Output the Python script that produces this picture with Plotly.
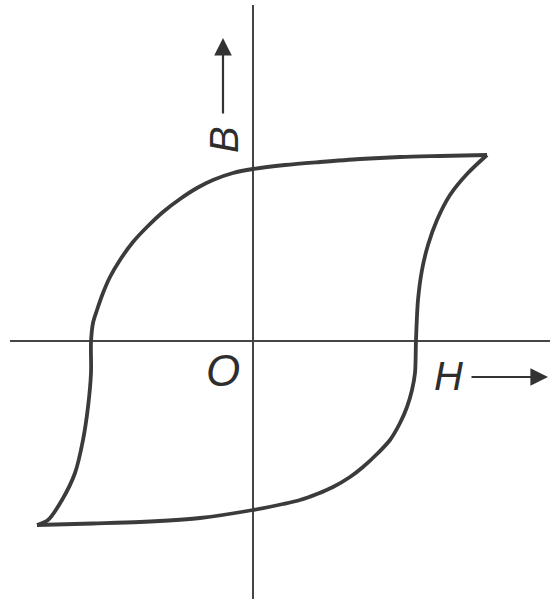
import plotly.graph_objects as go

# Hysteresis loop (H, B) in drawing units; origin at the axis crossing
upper_H = [23.4, 18.7, 14.7, 10.7, 6.7, 3.2, 0.0, -2.0, -4.0, -5.6, -7.3, -9.0, -10.6, -12.0, -13.3, -14.3, -15.0,
           -15.6, -16.0, -16.2, -16.2, -16.5, -17.0, -17.8, -19.1, -20.5, -21.6]
upper_B = [18.6, 18.5, 18.4, 18.2, 17.9, 17.6, 17.2, 16.8, 16.1, 15.3, 14.2, 12.9, 11.4, 9.9, 8.1, 6.4, 4.8,
           3.1, 1.8, -0.1, -3.2, -6.6, -9.9, -13.2, -15.9, -17.9, -18.4]

lower_H = [-21.6, -16.0, -11.3, -5.3, 0.0, 3.0, 4.7, 6.4, 8.0, 9.7, 11.0, 12.5, 13.7, 14.7, 15.4, 15.9,
           16.2, 16.3, 16.5, 16.9, 17.5, 18.4, 19.7, 21.4, 23.4]
lower_B = [-18.4, -18.25, -18.1, -17.7, -16.9, -16.3, -15.9, -15.3, -14.6, -13.6, -12.6, -11.2, -9.9, -8.2, -6.6, -4.9,
           -3.2, 0.1, 4.1, 7.1, 9.6, 12.1, 14.6, 16.7, 18.6]

axis_H_x = [-24.3, 29.7]
axis_H_y = [0.0, 0.0]
axis_B_x = [0.0, 0.0]
axis_B_y = [33.6, -26.0]

loop_color = "#3b3b3b"
axis_color = "#454545"

fig = go.Figure()
fig.add_trace(go.Scatter(x=axis_H_x, y=axis_H_y, mode="lines",
                         line=dict(color=axis_color, width=2), hoverinfo="skip"))
fig.add_trace(go.Scatter(x=axis_B_x, y=axis_B_y, mode="lines",
                         line=dict(color=axis_color, width=2), hoverinfo="skip"))
fig.add_trace(go.Scatter(x=upper_H, y=upper_B, mode="lines",
                         line=dict(color=loop_color, width=3.8, shape="spline", smoothing=0.85)))
fig.add_trace(go.Scatter(x=lower_H, y=lower_B, mode="lines",
                         line=dict(color=loop_color, width=3.8, shape="spline", smoothing=0.85)))

font = dict(family="Liberation Sans, Arial, sans-serif", size=40, color="#2e2e2e")

annotations = [
    dict(x=-2.9, y=20.1, text="<i>B</i>", textangle=-90, showarrow=False, font=font),
    dict(x=-3.0, y=-2.9, text="<i>O</i>", showarrow=False,
         font=dict(family="Liberation Sans, Arial, sans-serif", size=44, color="#2e2e2e")),
    dict(x=19.5, y=-3.5, text="<i>H</i>", showarrow=False, font=font),
    # arrows
    dict(x=-3.0, y=30.3, ax=-3.0, ay=22.6, axref="x", ayref="y", xref="x", yref="y",
         text="", showarrow=True, arrowhead=2, arrowsize=1.6, arrowwidth=2.2, arrowcolor="#333333"),
    dict(x=29.5, y=-3.6, ax=21.7, ay=-3.6, axref="x", ayref="y", xref="x", yref="y",
         text="", showarrow=True, arrowhead=2, arrowsize=1.6, arrowwidth=2.2, arrowcolor="#333333"),
]

fig.update_layout(
    width=556, height=599,
    margin=dict(l=0, r=0, t=0, b=0),
    paper_bgcolor="white", plot_bgcolor="white",
    showlegend=False,
    xaxis=dict(range=[-25.3, 30.3], visible=False, fixedrange=True),
    yaxis=dict(range=[-25.8, 34.1], visible=False, fixedrange=True),
    annotations=annotations,
)

fig.write_html("out.html", config={"displayModeBar": False},
               post_script="document.body.style.margin='0';document.body.style.overflow='hidden';")
